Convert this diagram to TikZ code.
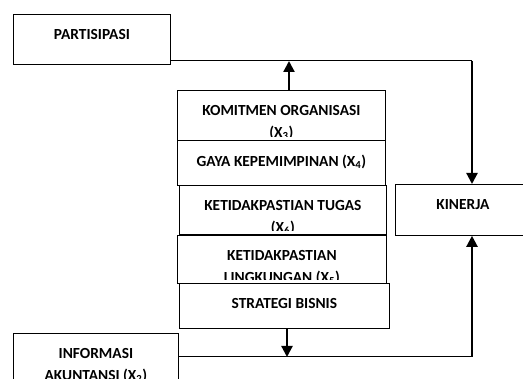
\documentclass[tikz,border=0pt]{standalone}
\usepackage{fontspec}
\setmainfont{Carlito}
\usetikzlibrary{arrows.meta,calc}

\begin{document}
\begin{tikzpicture}[x=1pt,y=-1pt,>={Triangle[length=11pt,width=11pt]},
	kotak/.style={draw,line width=0.8pt,inner sep=0pt,anchor=north west},
	teks/.style={anchor=north,inner sep=0pt,align=center,font=\fontsize{15.4}{22}\selectfont\bfseries},
	garis/.style={line width=1pt},
	panah/.style={->,line width=2.2pt}]

\clip (0,0) rectangle (523,379);

% kotak: nama, x, y, lebar, tinggi, teks
\def\kotak#1#2#3#4#5#6{
	\node[kotak,minimum width=#4pt,minimum height=#5pt] (#1) at (#2,#3) {};
	\begin{scope}
		\clip ([yshift=4pt]#1.south west) rectangle (#1.north east);
		\node[teks] at ([yshift=-15pt]#1.north) {#6};
	\end{scope}
}

\kotak{partisipasi}{13}{14}{157}{50}{PARTISIPASI}
\kotak{komitmen}{177}{90}{208}{50}{KOMITMEN ORGANISASI\\(X\textsubscript{3})}
\kotak{gaya}{177}{140}{208}{45}{GAYA KEPEMIMPINAN (X\textsubscript{4})}
\kotak{tugas}{179}{185}{207}{49}{KETIDAKPASTIAN TUGAS\\(X\textsubscript{6})}
\kotak{lingkungan}{177}{235}{209}{48}{KETIDAKPASTIAN\\LINGKUNGAN (X\textsubscript{5})}
\kotak{strategi}{179}{283}{210}{45}{STRATEGI BISNIS}
\kotak{kinerja}{395}{184}{135}{51}{KINERJA}
\kotak{informasi}{13}{333}{165}{57}{INFORMASI\\AKUNTANSI (X\textsubscript{2})}

\coordinate (sudutatas) at (472,61);
\coordinate (titikatas) at (289,61);
\coordinate (sudutbawah) at (472,357);
\coordinate (titikbawah) at (287,357);

\draw[garis] (partisipasi.east |- sudutatas) -- (sudutatas);
\draw[panah] (sudutatas) -- (kinerja.north -| sudutatas);
\draw[panah] (komitmen.north -| titikatas) -- (titikatas);

\draw[garis] (informasi.east |- sudutbawah) -- (sudutbawah);
\draw[panah] (sudutbawah) -- (kinerja.south -| sudutbawah);
\draw[panah] (strategi.south -| titikbawah) -- (titikbawah);

\end{tikzpicture}
\end{document}
